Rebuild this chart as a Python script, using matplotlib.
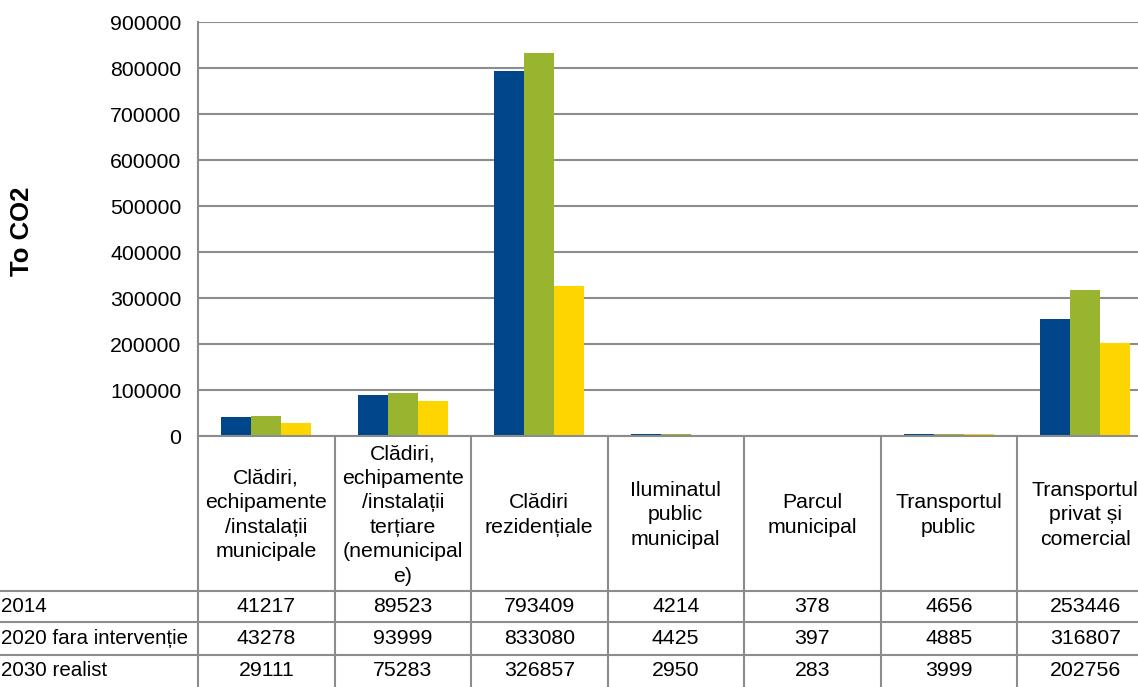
import numpy as np
import matplotlib.pyplot as plt
from matplotlib.lines import Line2D
from matplotlib.transforms import blended_transform_factory

plt.rcParams['font.family'] = ['Liberation Sans', 'DejaVu Sans']

categories = ["Clădiri,\nechipamente\n/instalații\nmunicipale",
              "Clădiri,\nechipamente\n/instalații\nterțiare\n(nemunicipal\ne)",
              "Clădiri\nrezidențiale",
              "Iluminatul\npublic\nmunicipal",
              "Parcul\nmunicipal",
              "Transportul\npublic",
              "Transportul\nprivat și\ncomercial"]
series_names = ["2014", "2020 fara intervenție", "2030 realist"]
v2014 = [41217, 89523, 793409, 4214, 378, 4656, 253446]
v2020 = [43278, 93999, 833080, 4425, 397, 4885, 316807]
v2030 = [29111, 75283, 326857, 2950, 283, 3999, 202756]
colors = ["#00468B", "#99B42F", "#FFD500"]
yticks = np.arange(0, 900001, 100000)

W, H = 1138, 687
grid_col = "#8C8C8C"
fs = 15.3

fig = plt.figure(figsize=(W / 100, H / 100), dpi=100)
ax = fig.add_axes([198 / W, (H - 436) / H, 955.5 / W, 414 / H])

x = np.arange(len(categories))
bw = 0.22
for k, vals in enumerate([v2014, v2020, v2030]):
    ax.bar(x + (k - 1) * bw, vals, bw, color=colors[k], zorder=3)

ax.set_xlim(-0.5, len(categories) - 0.5)
ax.set_ylim(0, 900000)
ax.set_yticks(yticks)
ax.set_yticklabels([str(t) for t in yticks], fontsize=fs)
ax.set_xticks([])
ax.tick_params(axis='y', length=0, pad=12)
ax.grid(axis='y', color=grid_col, lw=1.5, zorder=0)
for s in ['top', 'right', 'bottom']:
    ax.spines[s].set_visible(False)
ax.spines['left'].set_color(grid_col)
ax.spines['left'].set_linewidth(1.5)

fig.text(22 / W, (H - 231) / H, "To CO2", rotation=90, ha='center', va='center',
         fontsize=18.5, fontweight='bold')

# data table below the chart
tr = blended_transform_factory(ax.transData, fig.transFigure)
table_top = (H - 436) / H
row_lines = [(H - 591) / H, (H - 622) / H, (H - 655) / H]
row_centers = [(H - 607) / H, (H - 638) / H, (H - 671) / H]
header_center = (H - 515) / H

fig.add_artist(Line2D([198 / W, 1], [table_top, table_top], transform=fig.transFigure,
                      color=grid_col, lw=1.5))
for y in row_lines:
    fig.add_artist(Line2D([0, 1], [y, y], transform=fig.transFigure, color=grid_col, lw=1.5))
for i in range(len(categories) + 1):
    fig.add_artist(Line2D([i - 0.5, i - 0.5], [0, table_top], transform=tr,
                          color=grid_col, lw=1.5))

for i, cat in enumerate(categories):
    fig.text(i, header_center, cat, transform=tr, ha='center', va='center',
             fontsize=fs, linespacing=1.36)
for r, (name, vals) in enumerate(zip(series_names, [v2014, v2020, v2030])):
    fig.text(1 / W, row_centers[r], name, ha='left', va='center', fontsize=14.8)
    for i, v in enumerate(vals):
        fig.text(i, row_centers[r], str(v), transform=tr, ha='center', va='center', fontsize=fs)

fig.savefig("out.png", dpi=100)
